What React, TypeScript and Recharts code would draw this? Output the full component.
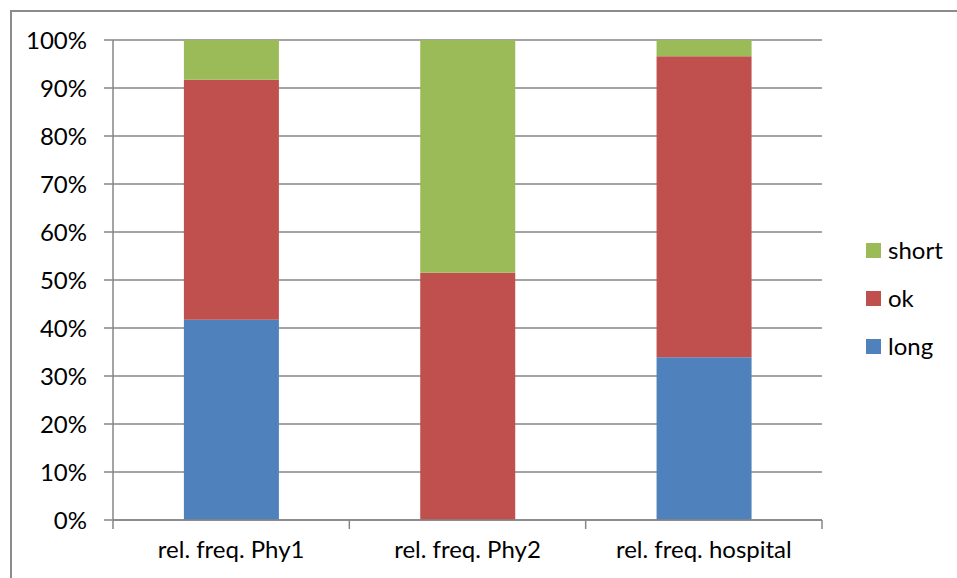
import React from "react";
import { BarChart, Bar, XAxis, YAxis, CartesianGrid } from "recharts";

const categories = ["rel. freq. Phy1", "rel. freq. Phy2", "rel. freq. hospital"];
const longValues = [41.7, 0, 33.9];
const okValues = [50.0, 51.5, 62.7];
const shortValues = [8.3, 48.5, 3.4];
const yTicks = [0, 10, 20, 30, 40, 50, 60, 70, 80, 90, 100];

const series = [
  { key: "long", name: "long", color: "#4F81BD", values: longValues },
  { key: "ok", name: "ok", color: "#C0504D", values: okValues },
  { key: "short", name: "short", color: "#9BBB59", values: shortValues },
];

const data = categories.map((c, i) => ({
  name: c,
  long: longValues[i],
  ok: okValues[i],
  short: shortValues[i],
}));

const FONT = "Lato, 'Open Sans', sans-serif";
const FS = 24;
const AXIS = "#868686";

const XTick = (props: any) => {
  const { x, y, payload, index, visibleTicksCount } = props;
  const half = payload && payload.offset != null ? payload.offset : 118;
  const isLast = index === (visibleTicksCount ?? 3) - 1;
  return (
    <g>
      <line x1={x - half} x2={x - half} y1={y} y2={y + 9} stroke={AXIS} strokeWidth={1.5} />
      {isLast && (
        <line x1={x + half} x2={x + half} y1={y} y2={y + 9} stroke={AXIS} strokeWidth={1.5} />
      )}
      <text
        x={x}
        y={y + 28}
        textAnchor="middle"
        dominantBaseline="central"
        fontFamily={FONT}
        fontSize={FS}
        fill="#000"
      >
        {payload.value}
      </text>
    </g>
  );
};

export default function App() {
  const legendItems = [...series].reverse();
  return (
    <div
      style={{
        position: "absolute",
        left: 0,
        top: 0,
        width: 957,
        height: 578,
        background: "#fff",
        overflow: "hidden",
      }}
    >
      <div
        style={{
          position: "absolute",
          left: 10,
          top: 10,
          width: 960,
          height: 580,
          borderLeft: "2px solid #8c8c8c",
          borderTop: "2px solid #8c8c8c",
        }}
      />
      <div style={{ position: "absolute", left: 0, top: 0 }}>
        <BarChart
          width={957}
          height={578}
          data={data}
          margin={{ top: 40, right: 135, left: 0, bottom: 0 }}
          barCategoryGap="30%"
        >
          <CartesianGrid vertical={false} stroke={AXIS} strokeWidth={1.5} />
          <XAxis
            dataKey="name"
            height={58}
            axisLine={{ stroke: AXIS, strokeWidth: 1.5 }}
            tickLine={false}
            tickSize={0}
            tickMargin={0}
            interval={0}
            tick={<XTick />}
          />
          <YAxis
            width={113}
            domain={[0, 100]}
            ticks={yTicks}
            interval={0}
            axisLine={{ stroke: AXIS, strokeWidth: 1.5 }}
            tickLine={{ stroke: AXIS, strokeWidth: 1.5 }}
            tickSize={9}
            tickMargin={17}
            tickFormatter={(v: number) => `${v}%`}
            tick={{ fontFamily: FONT, fontSize: FS, fill: "#000" }}
          />
          {series.map((s) => (
            <Bar
              key={s.key}
              dataKey={s.key}
              name={s.name}
              stackId="a"
              fill={s.color}
              isAnimationActive={false}
            />
          ))}
        </BarChart>
      </div>
      <div
        style={{
          position: "absolute",
          left: 866,
          top: 226,
          fontFamily: FONT,
          fontSize: FS,
          color: "#000",
        }}
      >
        {legendItems.map((s) => (
          <div
            key={s.key}
            style={{ display: "flex", alignItems: "center", height: 48, lineHeight: "28px" }}
          >
            <span
              style={{
                display: "inline-block",
                width: 15,
                height: 15,
                background: s.color,
                marginRight: 7,
              }}
            />
            <span>{s.name}</span>
          </div>
        ))}
      </div>
    </div>
  );
}
